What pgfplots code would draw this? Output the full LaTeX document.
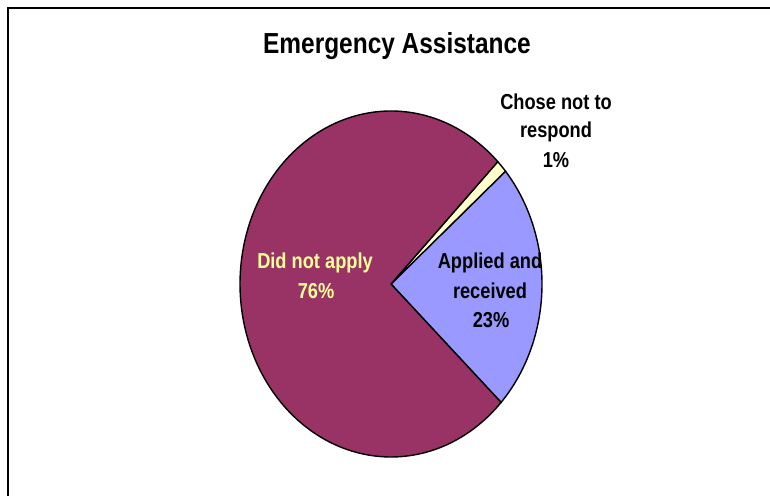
\documentclass[border=0pt]{standalone}
\usepackage{pgfplots}
\pgfplotsset{compat=1.18}
\usepackage{pgfplotstable}
\usepackage{fontspec}
\setmainfont{Liberation Sans}
\definecolor{maroon}{HTML}{993366}
\definecolor{peri}{HTML}{9999FF}
\definecolor{cream}{HTML}{FFFFCC}
\definecolor{ltyellow}{HTML}{FFFF99}

\pgfplotstableread{
label value
Applied 23.3
Chose 1.2
Didnot 75.5
}\piedata

\newcommand\lab[4][black]{\node[font=\bfseries\fontsize{9.4}{11}\selectfont, text=#1, inner sep=0pt, anchor=base] at (axis cs:#2,#3) {\scalebox{0.97}[1.15]{#4}};}

\begin{document}
\begin{tikzpicture}
\pgfplotstablegetelem{0}{value}\of\piedata \let\va\pgfplotsretval
\pgfplotstablegetelem{1}{value}\of\piedata \let\vb\pgfplotsretval
\pgfplotstablegetelem{2}{value}\of\piedata \let\vc\pgfplotsretval
\pgfmathsetmacro\aA{-43.2}
\pgfmathsetmacro\aB{\aA+3.6*\va}
\pgfmathsetmacro\aC{\aB+3.6*\vb}
\pgfmathsetmacro\aD{\aC+3.6*\vc}
\begin{axis}[at={(0,0)},anchor=south west, scale only axis,
  width=385pt, height=248pt, xmin=0, xmax=770, ymin=0, ymax=496,
  hide axis, clip=true]
% frame
\addplot[black, line width=1pt] coordinates {(8,-20) (8,487.5) (800,487.5)};
% slices
\addplot[fill=peri, draw=black, line width=0.7pt, domain=\aA:\aB, samples=80]
  ({391+151*cos(x)},{212+173*sin(x)}) -- (axis cs:391,212) -- cycle;
\addplot[fill=cream, draw=black, line width=0.7pt, domain=\aB:\aC, samples=10]
  ({391+151*cos(x)},{212+173*sin(x)}) -- (axis cs:391,212) -- cycle;
\addplot[fill=maroon, draw=black, line width=0.7pt, domain=\aC:\aD, samples=200]
  ({391+151*cos(x)},{212+173*sin(x)}) -- (axis cs:391,212) -- cycle;
% labels
\node[font=\bfseries\fontsize{12.6}{14}\selectfont, inner sep=0pt, anchor=base] at (axis cs:397,442) {\scalebox{0.97}[1.15]{Emergency Assistance}};
\lab{556}{386}{Chose not to}
\lab{556}{358}{respond}
\lab{556}{328}{1\%}
\lab[ltyellow]{315}{227}{Did not apply}
\lab[ltyellow]{316}{197}{76\%}
\lab{490}{227}{Applied and}
\lab{490}{197}{received}
\lab{491}{168}{23\%}
\end{axis}
\pgfresetboundingbox
\path[use as bounding box] (0,0) rectangle (385pt,248pt);
\end{tikzpicture}
\end{document}
